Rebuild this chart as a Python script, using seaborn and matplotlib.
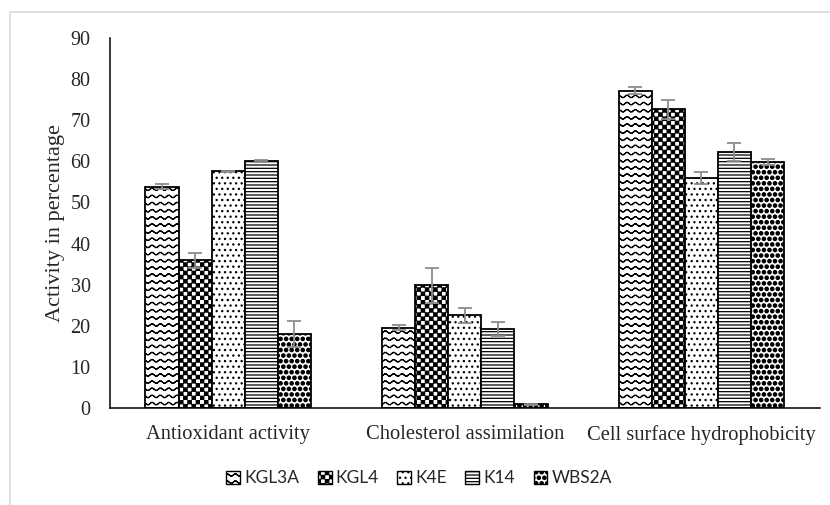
import warnings
import numpy as np
import pandas as pd
import matplotlib
matplotlib.use('Agg')
import matplotlib.pyplot as plt
import matplotlib.hatch as mhatch
from matplotlib.path import Path
from matplotlib.patches import Patch, Rectangle
import seaborn as sns

warnings.filterwarnings('ignore')

# Data (mean and error per strain)
assays = ['Antioxidant activity', 'Cholesterol assimilation', 'Cell surface hydrophobicity']
strains = ['KGL3A', 'KGL4', 'K4E', 'K14', 'WBS2A']
kgl3a = [53.8, 19.5, 77.2]
kgl4 = [35.9, 29.8, 72.6]
k4e = [57.6, 22.5, 56.0]
k14 = [60.1, 19.2, 62.3]
wbs2a = [18.0, 0.9, 59.8]
kgl3a_err = [0.6, 0.6, 0.8]
kgl4_err = [1.9, 4.2, 2.4]
k4e_err = [0.1, 1.8, 1.5]
k14_err = [0.3, 1.8, 2.2]
wbs2a_err = [3.1, 0.2, 0.8]


# Excel-like fill patterns that matplotlib lacks: wave, checkerboard, big dots
class WaveHatch(mhatch.HatchPatternBase):
    def __init__(self, hatch, density):
        self.rows = hatch.count('w') * 7
        self.periods = 12
        self.steps = 6
        self.num_vertices = self.rows * self.periods * self.steps * 2

    def set_vertices_and_codes(self, vertices, codes):
        n = self.periods * self.steps
        xs = np.linspace(0, 1, n + 1)
        amp = 0.012
        ys = amp * np.sin(2 * np.pi * self.periods * xs)
        k = 0
        for r in range(self.rows):
            y0 = (r + 0.5) / self.rows
            for j in range(n):
                vertices[k] = (xs[j], y0 + ys[j])
                vertices[k + 1] = (xs[j + 1], y0 + ys[j + 1])
                codes[k] = Path.MOVETO
                codes[k + 1] = Path.LINETO
                k += 2


class CheckerHatch(mhatch.HatchPatternBase):
    def __init__(self, hatch, density):
        self.m = hatch.count('c') * 12
        self.num_vertices = self.m * self.m * 2 * 5

    def set_vertices_and_codes(self, vertices, codes):
        c = 1.0 / (2 * self.m)
        ins = 0.004
        k = 0
        for i in range(self.m):
            for j in range(self.m):
                for (a, b) in [(2 * i, 2 * j), (2 * i + 1, 2 * j + 1)]:
                    x0, y0 = a * c + ins, b * c + ins
                    x1, y1 = (a + 1) * c - ins, (b + 1) * c - ins
                    vertices[k:k + 5] = [(x0, y0), (x1, y0), (x1, y1), (x0, y1), (x0, y0)]
                    codes[k:k + 5] = [Path.MOVETO, Path.LINETO, Path.LINETO,
                                      Path.LINETO, Path.CLOSEPOLY]
                    k += 5


class BigDots(mhatch.Shapes):
    filled = True
    size = 0.3

    def __init__(self, hatch, density):
        self.num_rows = hatch.count('b') * 18
        circle = Path.unit_circle()
        self.shape_vertices = circle.vertices
        self.shape_codes = circle.codes
        super().__init__(hatch, density)


mhatch._hatch_types.extend([WaveHatch, CheckerHatch, BigDots])

hatches = ['ww', 'c', '...', '-----', 'b']
values = [kgl3a, kgl4, k4e, k14, wbs2a]
errors = [kgl3a_err, kgl4_err, k4e_err, k14_err, wbs2a_err]

df = pd.DataFrame({
    'assay': np.tile(assays, len(strains)),
    'strain': np.repeat(strains, len(assays)),
    'value': np.concatenate(values),
})

sns.set_style('white')
plt.rcParams['hatch.linewidth'] = 0.9
plt.rcParams['font.family'] = ['Liberation Serif', 'DejaVu Serif']

fig = plt.figure(figsize=(8.3, 5.05), dpi=100)
ax = fig.add_axes([0.1325, 0.192, 0.855, 0.733])

sns.barplot(data=df, x='assay', y='value', hue='strain', order=assays,
            hue_order=strains, width=0.7, gap=0, errorbar=None,
            palette=['white'] * 5, edgecolor='black', linewidth=1.3,
            legend=False, ax=ax)

# patterns and error bars per strain
for cont, h, err in zip(ax.containers, hatches, errors):
    xs, ys = [], []
    for bar in cont:
        bar.set_hatch(h)
        xs.append(bar.get_x() + bar.get_width() / 2)
        ys.append(bar.get_height())
    ax.errorbar(xs, ys, yerr=err, fmt='none', ecolor='#8c8c8c',
                elinewidth=1.3, capsize=5, capthick=1.3, zorder=5)

ax.set_ylim(0, 90)
ax.set_yticks(range(0, 91, 10))
ax.set_xlim(-0.5, 2.5)
ax.set_xlabel('')
ax.set_ylabel('Activity in percentage', fontsize=16, labelpad=4)
ax.tick_params(axis='y', length=0, labelsize=14.5, pad=14)
ax.tick_params(axis='x', length=0, labelsize=14.8, pad=12)
sns.despine(ax=ax)
for s in ['left', 'bottom']:
    ax.spines[s].set_color('black')
    ax.spines[s].set_linewidth(1.1)

handles = [Patch(facecolor='white', edgecolor='black', hatch=h, linewidth=1.0)
           for h in hatches]
fig.legend(handles, strains, loc='center', bbox_to_anchor=(0.505, 0.053),
           ncol=5, frameon=False, handlelength=0.8, handleheight=0.8,
           handletextpad=0.25, columnspacing=1.05,
           prop={'family': 'Lato', 'size': 12.5})

# light chart-area border
fig.patches.append(Rectangle((0.012, -0.01), 1.0, 0.986, transform=fig.transFigure,
                             fill=False, edgecolor='#d9d9d9', linewidth=1.2))

fig.savefig('out.png', dpi=100)
